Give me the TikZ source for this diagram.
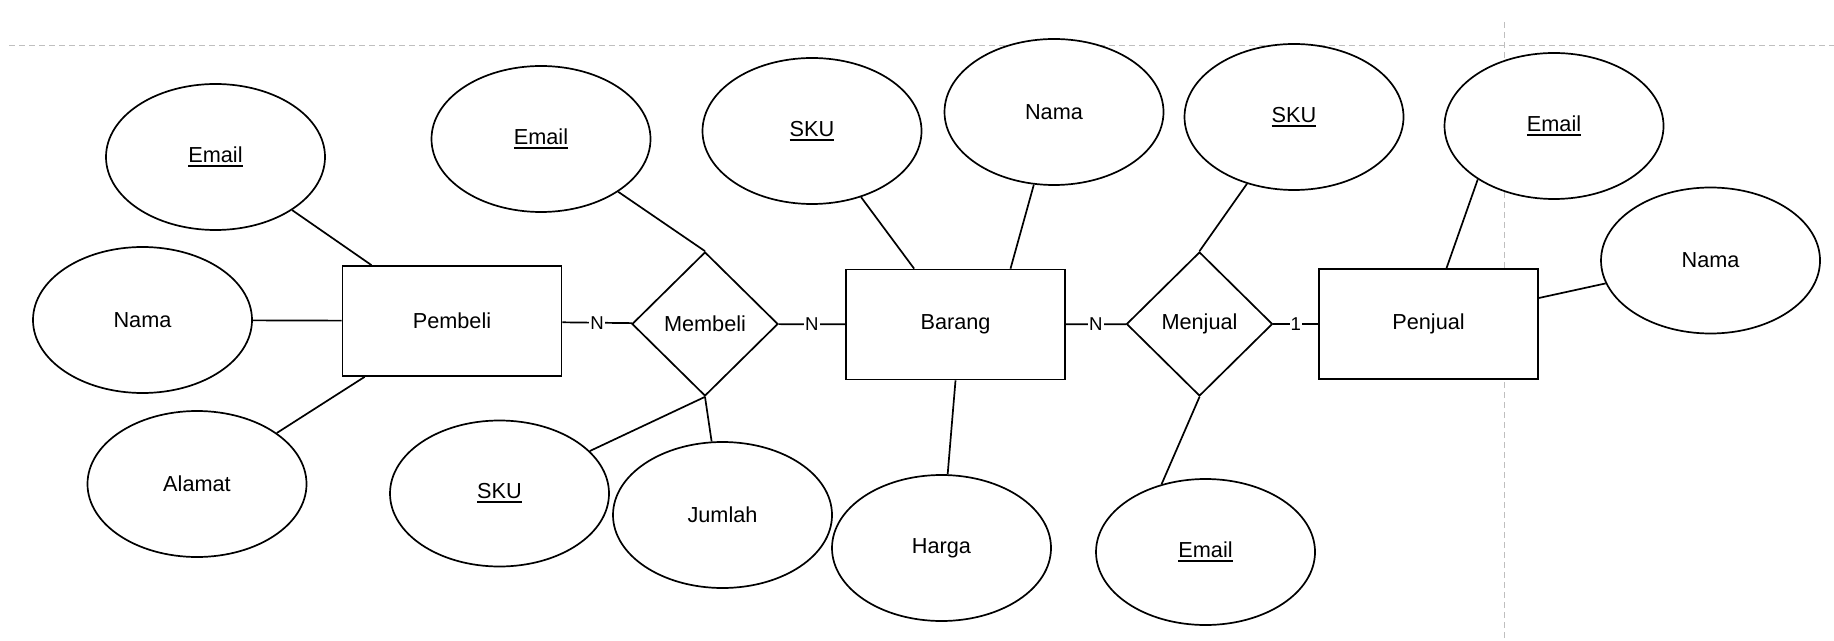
\documentclass[tikz,border=0pt]{standalone}
\usepackage{fontspec}
\setmainfont{Liberation Sans}
\usetikzlibrary{shapes.geometric,calc}
\newcommand{\keyattr}[1]{\setbox0\hbox{#1}\rlap{\rule[-2.2pt]{\wd0}{0.9pt}}\box0}
\begin{document}
\begin{tikzpicture}
[x=0.5pt,y=-0.5pt,
 every node/.style={font=\fontsize{10.85}{13}\selectfont},
 attr/.style={ellipse,draw,fill=white,line width=0.85pt,minimum width=109.5pt,minimum height=73pt,inner sep=0pt},
 entity/.style={rectangle,draw,fill=white,line width=0.85pt,minimum width=109.5pt,minimum height=55pt},
 rel/.style={diamond,draw,fill=white,line width=0.85pt,minimum width=73pt,minimum height=72pt,inner sep=0pt},
 conn/.style={line width=0.85pt},
 card/.style={fill=white,inner sep=0.5pt,font=\fontsize{9.3}{11}\selectfont},
 pagebreak/.style={draw=black!25,line width=0.5pt,dash pattern=on 3pt off 2pt}]
    \useasboundingbox (0,0) rectangle (1834,641);
    \draw[pagebreak] (9,46) -- (1834,46);
    \draw[pagebreak] (1504,22) -- (1504,641);

    \node[entity] (pembeli) at (452,321) {Pembeli};
    \node[rel] (membeli) at (705,324) {Membeli};
    \node[entity] (barang) at (955.5,324.5) {Barang};
    \node[rel] (menjual) at (1199.5,324) {Menjual};
    \node[entity] (penjual) at (1428.5,324) {Penjual};

    \node[attr] (emailPb) at (215.5,157) {\keyattr{Email}};
    \node[attr] (namaPb) at (142.5,320) {Nama};
    \node[attr] (alamatPb) at (197,484) {Alamat};
    \node[attr] (emailMb) at (541,139) {\keyattr{Email}};
    \node[attr] (skuMb) at (499.5,493.5) {\keyattr{SKU}};
    \node[attr] (jumlahMb) at (722.5,515) {Jumlah};
    \node[attr] (skuBr) at (812,131) {\keyattr{SKU}};
    \node[attr] (namaBr) at (1054,112) {Nama};
    \node[attr] (hargaBr) at (941.5,548) {Harga};
    \node[attr] (skuMj) at (1294,117) {\keyattr{SKU}};
    \node[attr] (emailMj) at (1205.5,552) {\keyattr{Email}};
    \node[attr] (emailPj) at (1554,126) {\keyattr{Email}};
    \node[attr] (namaPj) at (1710.5,260.5) {Nama};

    \draw[conn] (emailPb) -- (pembeli);
    \draw[conn] (namaPb) -- (pembeli);
    \draw[conn] (alamatPb) -- (pembeli);
    \draw[conn] (pembeli) -- node[card] {N} (membeli);
    \draw[conn] (emailMb) -- (membeli.north);
    \draw[conn] (skuMb) -- (membeli.south);
    \draw[conn] (jumlahMb) -- (membeli.south);
    \draw[conn] (membeli) -- node[card] {N} (barang);
    \draw[conn] (skuBr) -- (barang);
    \draw[conn] (namaBr) -- ($(barang.north)+(55,0)$);
    \draw[conn] (hargaBr) -- (barang.south);
    \draw[conn] (barang) -- node[card] {N} (menjual);
    \draw[conn] (skuMj) -- (menjual.north);
    \draw[conn] (emailMj.123) -- (menjual.south);
    \draw[conn] (menjual) -- node[card] {1} (penjual);
    \draw[conn] (emailPj.215) -- ($(penjual.north)+(18,0)$);
    \draw[conn] (namaPj) -- ($(penjual.east)+(0,-26)$);
\end{tikzpicture}
\end{document}
